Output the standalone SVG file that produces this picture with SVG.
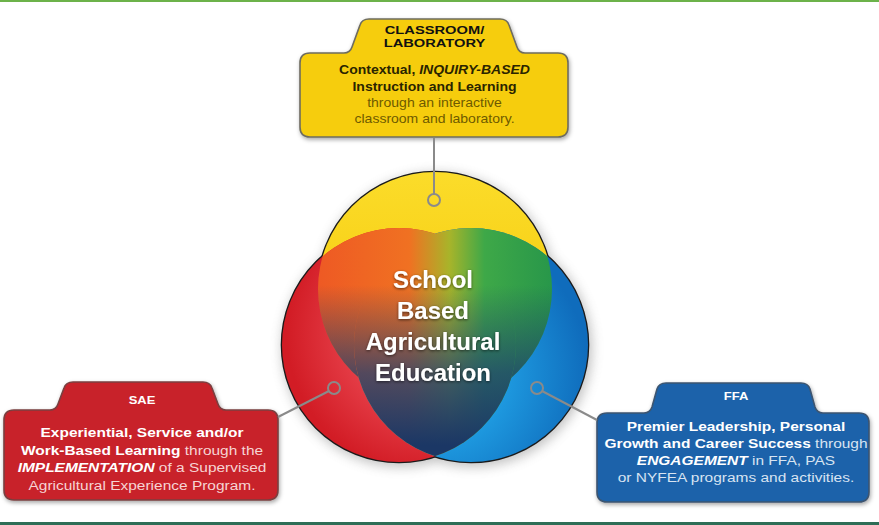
<svg xmlns="http://www.w3.org/2000/svg" width="879" height="525" viewBox="0 0 879 525">
<defs>
<style>
.t{font-family:"Liberation Sans",Arial,sans-serif;text-anchor:middle}
.b{font-weight:bold}
.i{font-style:italic;font-weight:bold}
.r{font-weight:normal}
.conn{stroke:#8a8a8a;stroke-width:2;fill:none}
.ring{stroke:#8a8a8a;stroke-width:2;fill:none}
.ctr{font-family:"Liberation Sans",Arial,sans-serif;font-weight:bold;font-size:24px;fill:#fff;text-anchor:middle}
</style>
<filter id="sh" x="-10%" y="-10%" width="120%" height="130%">
<feDropShadow dx="1" dy="2" stdDeviation="2" flood-color="#000" flood-opacity="0.35"/>
</filter>
<filter id="glow" x="-20%" y="-20%" width="140%" height="140%">
<feGaussianBlur stdDeviation="6"/>
</filter>
<filter id="tsh" x="-10%" y="-20%" width="120%" height="140%">
<feDropShadow dx="0" dy="1" stdDeviation="1.5" flood-color="#000" flood-opacity="0.6"/>
</filter>
<clipPath id="cY"><circle cx="435" cy="289" r="117"/></clipPath>
<clipPath id="cR"><circle cx="399" cy="345" r="117"/></clipPath>
<clipPath id="cB"><circle cx="471" cy="345" r="117"/></clipPath>
<linearGradient id="gY" x1="0" y1="0" x2="0" y2="1">
<stop offset="0" stop-color="#fbdc2a"/><stop offset="1" stop-color="#f4c400"/>
</linearGradient>
<radialGradient id="gR" cx="0.62" cy="0.45" r="0.6">
<stop offset="0" stop-color="#f4808a"/><stop offset="0.45" stop-color="#ea4650"/><stop offset="1" stop-color="#d21c25"/>
</radialGradient>
<radialGradient id="gB" cx="0.35" cy="0.62" r="0.65">
<stop offset="0" stop-color="#45c8f0"/><stop offset="0.45" stop-color="#1e9ae0"/><stop offset="1" stop-color="#0f6cbc"/>
</radialGradient>
<linearGradient id="gH" gradientUnits="userSpaceOnUse" x1="320" y1="0" x2="555" y2="0">
<stop offset="0" stop-color="#ee5a24"/><stop offset="0.38" stop-color="#f07122"/><stop offset="0.55" stop-color="#a8b42a"/><stop offset="0.7" stop-color="#3ea848"/><stop offset="1" stop-color="#27964a"/>
</linearGradient>
<linearGradient id="gV" gradientUnits="userSpaceOnUse" x1="0" y1="285" x2="0" y2="445">
<stop offset="0" stop-color="#1d3b6a" stop-opacity="0"/><stop offset="0.55" stop-color="#1f3f70" stop-opacity="0.75"/><stop offset="1" stop-color="#1b3765" stop-opacity="1"/>
</linearGradient>
</defs>
<rect width="879" height="525" fill="#fff"/>
<rect x="0" y="0" width="879" height="2" fill="#6cb24a"/>
<rect x="0" y="522" width="879" height="3" fill="#2e6d56"/>

<g id="venn">
<g opacity="0.45" filter="url(#glow)" fill="#777">
<circle cx="437" cy="292" r="119"/><circle cx="401" cy="348" r="119"/><circle cx="473" cy="348" r="119"/>
</g>
<g stroke="#1a1a1a" stroke-width="2.6" fill="none">
<circle cx="435" cy="289" r="117"/><circle cx="399" cy="345" r="117"/><circle cx="471" cy="345" r="117"/>
</g>
<circle cx="435" cy="289" r="117" fill="url(#gY)"/>
<circle cx="399" cy="345" r="117" fill="url(#gR)"/>
<circle cx="471" cy="345" r="117" fill="url(#gB)"/>
<g clip-path="url(#cY)"><g clip-path="url(#cR)"><rect x="270" y="160" width="340" height="320" fill="url(#gH)"/><rect x="270" y="160" width="340" height="320" fill="url(#gV)"/></g></g>
<g clip-path="url(#cY)"><g clip-path="url(#cB)"><rect x="270" y="160" width="340" height="320" fill="url(#gH)"/><rect x="270" y="160" width="340" height="320" fill="url(#gV)"/></g></g>
<g clip-path="url(#cR)"><g clip-path="url(#cB)"><rect x="270" y="160" width="340" height="320" fill="url(#gH)"/><rect x="270" y="160" width="340" height="320" fill="url(#gV)"/></g></g>
<g filter="url(#tsh)">
<text class="ctr" x="433" y="288">School</text>
<text class="ctr" x="433" y="319">Based</text>
<text class="ctr" x="433" y="350">Agricultural</text>
<text class="ctr" x="433" y="381">Education</text>
</g>
</g>

<g id="node-classroom">
<path d="M 310,53 L 344,53 Q 350,53 352,47 L 360,25 Q 362,19 369,19 L 500,19 Q 507,19 509,25 L 517,47 Q 519,53 525,53 L 558,53 Q 568,53 568,63 L 568,127 Q 568,137 558,137 L 310,137 Q 300,137 300,127 L 300,63 Q 300,53 310,53 Z" fill="#f6cd08" stroke="#6e6c60" stroke-width="1.6" filter="url(#sh)"/>
<g transform="translate(434.5,0) scale(1.3,1)" class="t">
<text x="0" y="34" class="b" font-size="11.3" fill="#111">CLASSROOM/</text>
<text x="0" y="47" class="b" font-size="11.3" fill="#111">LABORATORY</text>
</g>
<g transform="translate(434.5,0) scale(1.13,1)" class="t">
<text x="0" y="74" class="b" font-size="12.4" fill="#2a2400">Contextual, <tspan class="i">INQUIRY-BASED</tspan></text>
<text x="0" y="91" class="b" font-size="12.4" fill="#2a2400">Instruction and Learning</text>
<text x="0" y="107" class="r" font-size="12.4" fill="#6e5a00">through an interactive</text>
<text x="0" y="123" class="r" font-size="12.4" fill="#6e5a00">classroom and laboratory.</text>
</g>
</g>

<g id="node-sae">
<path d="M 14,410 L 50,410 Q 56,410 58,404 L 64,388 Q 66,382 73,382 L 203,382 Q 210,382 212,388 L 218,404 Q 220,410 226,410 L 268,410 Q 278,410 278,420 L 278,490 Q 278,500 268,500 L 14,500 Q 4,500 4,490 L 4,420 Q 4,410 14,410 Z" fill="#c8202b" stroke="#7a4040" stroke-width="1.6" filter="url(#sh)"/>
<g transform="translate(142,0) scale(1.13,1)" class="t">
<text x="0" y="404" class="b" font-size="11.5" fill="#fff">SAE</text>
<text x="0" y="437" class="b" font-size="13.7" fill="#fff">Experiential, Service and/or</text>
<text x="0" y="455" class="b" font-size="13.7" fill="#fff">Work-Based Learning<tspan class="r" fill="#f6d4d4"> through the</tspan></text>
<text x="0" y="472" class="i" font-size="13.7" fill="#fff">IMPLEMENTATION<tspan class="r" fill="#f6d4d4" font-style="normal"> of a Supervised</tspan></text>
<text x="0" y="490" class="r" font-size="13.7" fill="#f6d4d4">Agricultural Experience Program.</text>
</g>
</g>

<g id="node-ffa">
<path d="M 607,413 L 644,413 Q 650,413 652,407 L 657,389 Q 659,383 666,383 L 801,383 Q 808,383 810,389 L 815,407 Q 817,413 823,413 L 859,413 Q 869,413 869,423 L 869,492 Q 869,502 859,502 L 607,502 Q 597,502 597,492 L 597,423 Q 597,413 607,413 Z" fill="#1b62aa" stroke="#3d5570" stroke-width="1.6" filter="url(#sh)"/>
<g transform="translate(736,0) scale(1.13,1)" class="t">
<text x="0" y="400" class="b" font-size="11.5" fill="#fff">FFA</text>
<text x="0" y="431" class="b" font-size="13.7" fill="#fff">Premier Leadership, Personal</text>
<text x="0" y="448" class="b" font-size="13.7" fill="#fff">Growth and Career Success<tspan class="r" fill="#d8e4f2"> through</tspan></text>
<text x="0" y="465" class="i" font-size="13.7" fill="#fff">ENGAGEMENT<tspan class="r" fill="#d8e4f2" font-style="normal"> in FFA, PAS</tspan></text>
<text x="0" y="482" class="r" font-size="13.7" fill="#d8e4f2">or NYFEA programs and activities.</text>
</g>
</g>

<g id="connectors">
<line class="conn" x1="434" y1="138" x2="434" y2="194"/>
<circle class="ring" cx="434" cy="200" r="6"/>
<line class="conn" x1="329" y1="391" x2="278" y2="417"/>
<circle class="ring" cx="334" cy="388" r="6"/>
<line class="conn" x1="542" y1="391" x2="597" y2="420"/>
<circle class="ring" cx="537" cy="388" r="6"/>
</g>
</svg>
